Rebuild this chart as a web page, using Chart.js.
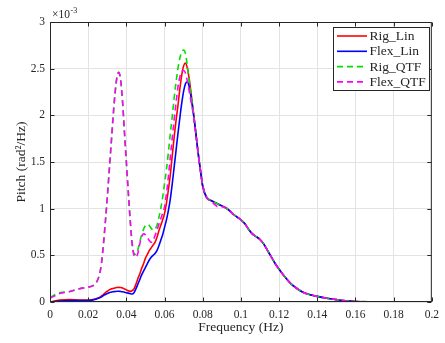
<!DOCTYPE html>
<html>
<head>
<meta charset="utf-8">
<script src="https://cdn.jsdelivr.net/npm/chart.js@4.4.0/dist/chart.umd.min.js"></script>
<style>
  html, body { margin: 0; padding: 0; background: #fff; }
  #wrap { width: 445px; height: 343px; }
</style>
</head>
<body>
<div id="wrap"><canvas id="pitchChart" width="445" height="343"></canvas></div>
<script>
// =====================
// Data (pitch spectra in units of 1e-3 rad^2/Hz)
// =====================

const freq = [
  0, 0.005, 0.01, 0.015, 0.02, 0.022, 0.024, 0.026, 0.027, 0.028, 0.029,
  0.030, 0.031, 0.032, 0.033, 0.034, 0.035, 0.036, 0.037, 0.038, 0.039,
  0.040, 0.041, 0.042, 0.043, 0.044, 0.045, 0.046, 0.047, 0.048, 0.049,
  0.050, 0.051, 0.052, 0.053, 0.054, 0.055, 0.056, 0.057, 0.058, 0.059,
  0.060, 0.061, 0.062, 0.063, 0.064, 0.065, 0.066, 0.067, 0.068, 0.069,
  0.070, 0.071, 0.072, 0.073, 0.074, 0.075, 0.076, 0.077, 0.078, 0.079,
  0.080, 0.082, 0.084, 0.086, 0.088, 0.090, 0.092, 0.094, 0.096, 0.098,
  0.100, 0.102, 0.104, 0.106, 0.108, 0.110, 0.112, 0.114, 0.116, 0.118,
  0.120, 0.123, 0.126, 0.129, 0.132, 0.135, 0.140, 0.145, 0.150, 0.155,
  0.160, 0.170, 0.180, 0.190, 0.200
];

const rigLin = [
  0.00, 0.02, 0.025, 0.022, 0.02, 0.025, 0.035, 0.05, 0.065, 0.08, 0.10,
  0.115, 0.13, 0.14, 0.145, 0.15, 0.155, 0.157, 0.155, 0.15, 0.14,
  0.13, 0.12, 0.115, 0.12, 0.14, 0.19, 0.25, 0.30, 0.36, 0.41,
  0.47, 0.51, 0.55, 0.58, 0.61, 0.64, 0.69, 0.76, 0.82, 0.88,
  0.95, 1.06, 1.20, 1.36, 1.56, 1.76, 1.94, 2.10, 2.28, 2.43,
  2.53, 2.56, 2.50, 2.38, 2.22, 2.05, 1.88, 1.70, 1.53, 1.38,
  1.24, 1.12, 1.09, 1.07, 1.05, 1.03, 1.01, 0.98, 0.94, 0.91,
  0.88, 0.84, 0.78, 0.73, 0.70, 0.67, 0.62, 0.55, 0.48, 0.41,
  0.35, 0.27, 0.20, 0.15, 0.11, 0.085, 0.06, 0.04, 0.025, 0.012,
  0.006, 0.002, 0.001, 0, 0
];

const flexLin = [
  0.00, 0.01, 0.015, 0.015, 0.015, 0.02, 0.03, 0.045, 0.055, 0.07, 0.08,
  0.09, 0.10, 0.105, 0.11, 0.112, 0.115, 0.115, 0.113, 0.11, 0.105,
  0.10, 0.095, 0.09, 0.085, 0.10, 0.14, 0.19, 0.24, 0.29, 0.33,
  0.37, 0.41, 0.45, 0.48, 0.50, 0.52, 0.55, 0.60, 0.66, 0.72,
  0.80, 0.88, 0.98, 1.10, 1.26, 1.44, 1.62, 1.80, 1.97, 2.13,
  2.26, 2.34, 2.36, 2.30, 2.18, 2.04, 1.88, 1.70, 1.53, 1.38,
  1.24, 1.12, 1.09, 1.07, 1.05, 1.03, 1.01, 0.98, 0.94, 0.91,
  0.88, 0.84, 0.78, 0.73, 0.70, 0.67, 0.62, 0.55, 0.48, 0.41,
  0.35, 0.27, 0.20, 0.15, 0.11, 0.085, 0.06, 0.04, 0.025, 0.012,
  0.006, 0.002, 0.001, 0, 0
];

const rigQtf = [
  0.05, 0.10, 0.11, 0.14, 0.16, 0.17, 0.20, 0.30, 0.42, 0.62, 0.86,
  1.12, 1.40, 1.68, 1.97, 2.22, 2.40, 2.46, 2.38, 2.15, 1.82,
  1.50, 1.18, 0.88, 0.64, 0.52, 0.51, 0.56, 0.64, 0.72, 0.78,
  0.82, 0.83, 0.82, 0.79, 0.77, 0.78, 0.82, 0.90, 1.00, 1.12,
  1.27, 1.42, 1.60, 1.80, 1.98, 2.18, 2.35, 2.50, 2.61, 2.68,
  2.70, 2.66, 2.52, 2.36, 2.20, 2.05, 1.88, 1.70, 1.53, 1.38,
  1.25, 1.13, 1.09, 1.07, 1.05, 1.03, 1.01, 0.98, 0.94, 0.91,
  0.88, 0.84, 0.78, 0.73, 0.70, 0.67, 0.62, 0.55, 0.48, 0.41,
  0.35, 0.27, 0.20, 0.15, 0.11, 0.085, 0.06, 0.04, 0.025, 0.012,
  0.006, 0.002, 0.001, 0, 0
];

const flexQtf = [
  0.04, 0.09, 0.11, 0.14, 0.16, 0.17, 0.20, 0.30, 0.42, 0.62, 0.86,
  1.12, 1.40, 1.68, 1.97, 2.22, 2.40, 2.46, 2.38, 2.15, 1.82,
  1.50, 1.18, 0.88, 0.62, 0.50, 0.48, 0.52, 0.62, 0.70, 0.73,
  0.72, 0.69, 0.66, 0.64, 0.66, 0.71, 0.77, 0.83, 0.89, 0.95,
  1.02, 1.16, 1.34, 1.55, 1.75, 1.95, 2.13, 2.30, 2.41, 2.47,
  2.48, 2.45, 2.36, 2.25, 2.13, 2.02, 1.87, 1.70, 1.53, 1.38,
  1.25, 1.12, 1.08, 1.05, 1.02, 1.02, 1.01, 0.98, 0.94, 0.91,
  0.88, 0.84, 0.78, 0.73, 0.70, 0.67, 0.62, 0.55, 0.48, 0.41,
  0.35, 0.27, 0.20, 0.15, 0.11, 0.085, 0.06, 0.04, 0.025, 0.012,
  0.006, 0.002, 0.001, 0, 0
];

const seriesNames = ['Rig_Lin', 'Flex_Lin', 'Rig_QTF', 'Flex_QTF'];
const seriesColors = ['#ff0000', '#0000ff', '#00e000', '#ff00ff'];
const xTitle = 'Frequency (Hz)';
const yTitle = 'Pitch (rad\u00b2/Hz)';

// =====================
// Styling
// =====================

const SERIF = '"Liberation Serif", "Times New Roman", serif';
const INK = '#262626';
Chart.defaults.font.family = SERIF;
Chart.defaults.color = INK;

const toPoints = vals => freq.map((f, i) => ({ x: f, y: vals[i] }));

const datasets = [rigLin, flexLin, rigQtf, flexQtf].map((vals, i) => ({
  label: seriesNames[i],
  data: toPoints(vals),
  borderColor: seriesColors[i],
  borderWidth: 1.6,
  borderDash: i >= 2 ? [6, 4] : [],
  pointRadius: 0,
  cubicInterpolationMode: 'monotone',
  fill: false,
  order: 4 - i
}));

// Box, inward ticks, exponent and legend, drawn over the plot
const axesFrame = {
  id: 'axesFrame',
  afterDatasetsDraw(chart) {
    const { ctx, chartArea: a, scales: { x, y } } = chart;
    const L = a.left + 0.5, R = a.right - 0.5, T = a.top + 0.5, B = a.bottom - 0.5;
    ctx.save();
    ctx.strokeStyle = INK;
    ctx.lineWidth = 1;
    ctx.beginPath();
    x.ticks.forEach(t => {
      const px = Math.round(x.getPixelForValue(t.value)) + 0.5;
      ctx.moveTo(px, B); ctx.lineTo(px, B - 4);
      ctx.moveTo(px, T); ctx.lineTo(px, T + 4);
    });
    y.ticks.forEach(t => {
      const py = Math.round(y.getPixelForValue(t.value)) + 0.5;
      ctx.moveTo(L, py); ctx.lineTo(L + 4, py);
      ctx.moveTo(R, py); ctx.lineTo(R - 4, py);
    });
    ctx.stroke();
    ctx.strokeRect(L, T, R - L, B - T);

    // x10^-3 multiplier
    ctx.fillStyle = INK;
    ctx.textBaseline = 'middle';
    ctx.textAlign = 'left';
    ctx.font = '11.5px ' + SERIF;
    ctx.fillText('\u00d710', 52, 15);
    const w = ctx.measureText('\u00d710').width;
    ctx.font = '8px ' + SERIF;
    ctx.fillText('-3', 52 + w + 0.5, 11);

    // legend
    const lx = 333.5, ly = 27.5, lw = 96, lh = 63;
    ctx.fillStyle = '#ffffff';
    ctx.fillRect(lx, ly, lw, lh);
    ctx.strokeStyle = INK;
    ctx.strokeRect(lx, ly, lw, lh);
    ctx.font = '13.5px ' + SERIF;
    chart.data.datasets.forEach((ds, i) => {
      const yy = 36 + i * 15.3;
      ctx.strokeStyle = ds.borderColor;
      ctx.lineWidth = ds.borderWidth;
      ctx.setLineDash(ds.borderDash);
      ctx.beginPath();
      ctx.moveTo(337, yy);
      ctx.lineTo(367, yy);
      ctx.stroke();
      ctx.setLineDash([]);
      ctx.fillStyle = INK;
      ctx.fillText(ds.label, 369.5, yy + 0.5);
    });
    ctx.restore();
  }
};

// =====================
// Chart
// =====================

new Chart(document.getElementById('pitchChart'), {
  type: 'line',
  data: { datasets },
  plugins: [axesFrame],
  options: {
    responsive: false,
    animation: false,
    devicePixelRatio: 1,
    layout: { padding: { top: 22, right: 12, left: 0, bottom: 0 } },
    plugins: {
      legend: { display: false },
      tooltip: { enabled: false }
    },
    scales: {
      x: {
        type: 'linear',
        min: 0,
        max: 0.2,
        afterFit: s => { s.height = 41; },
        border: { display: false },
        grid: { color: '#e3e3e3', drawTicks: false },
        ticks: {
          stepSize: 0.02,
          padding: 6,
          maxRotation: 0,
          font: { size: 11.5 },
          callback: v => String(Math.round(v * 100) / 100)
        },
        title: {
          display: true,
          text: xTitle,
          font: { size: 13.5 },
          padding: { top: 0, bottom: 7 }
        }
      },
      y: {
        min: 0,
        max: 3,
        afterFit: s => { s.width = 50; },
        border: { display: false },
        grid: { color: '#e3e3e3', drawTicks: false },
        ticks: {
          stepSize: 0.5,
          padding: 5,
          font: { size: 11.5 },
          callback: v => String(v)
        },
        title: {
          display: true,
          text: yTitle,
          font: { size: 13.5 },
          padding: { top: 13, bottom: 0 }
        }
      }
    }
  }
});
</script>
</body>
</html>
